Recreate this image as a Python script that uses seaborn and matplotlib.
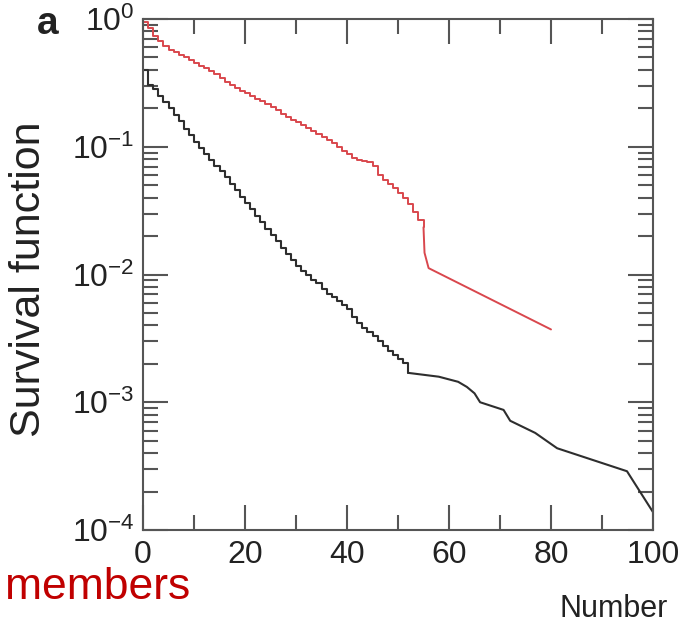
import numpy as np
import matplotlib
matplotlib.use("Agg")
import matplotlib.pyplot as plt
import seaborn as sns
from matplotlib.ticker import MultipleLocator, LogLocator, NullFormatter, LogFormatterSciNotation

# ---------------- data ----------------
# black curve: stepped part, survival given as log10 values at integer x
black_step_x = list(range(0, 53))
black_step_log10 = [-0.40, -0.52, -0.55, -0.60, -0.65, -0.70, -0.75, -0.80, -0.86, -0.91,
                    -0.96, -1.01, -1.06, -1.10, -1.15, -1.19, -1.24, -1.29, -1.34, -1.39,
                    -1.44, -1.49, -1.54, -1.59, -1.64, -1.69, -1.74, -1.79, -1.84, -1.89,
                    -1.93, -1.97, -2.00, -2.04, -2.07, -2.11, -2.15, -2.18, -2.21, -2.24,
                    -2.27, -2.33, -2.38, -2.42, -2.45, -2.48, -2.52, -2.56, -2.60, -2.63,
                    -2.66, -2.69, -2.77]
# black curve: sparse tail
black_tail_x = [52, 58, 61.8, 63.5, 65, 66.1, 70.7, 72, 76.9, 81.2, 94.9, 100]
black_tail_log10 = [-2.77, -2.80, -2.84, -2.88, -2.93, -3.00, -3.06, -3.145, -3.24, -3.36, -3.54, -3.86]

# red curve: stepped part
red_step_x = list(range(0, 56))
red_step_log10 = [-0.02, -0.07, -0.13, -0.17, -0.21, -0.24, -0.26, -0.28, -0.30, -0.32,
                  -0.345, -0.365, -0.385, -0.405, -0.43, -0.46, -0.49, -0.515, -0.54, -0.56,
                  -0.58, -0.60, -0.625, -0.645, -0.665, -0.69, -0.715, -0.74, -0.765, -0.79,
                  -0.81, -0.83, -0.85, -0.875, -0.90, -0.925, -0.945, -0.97, -1.00, -1.03,
                  -1.06, -1.085, -1.10, -1.11, -1.12, -1.15, -1.22, -1.26, -1.29, -1.32,
                  -1.36, -1.40, -1.45, -1.51, -1.57, -1.63]
# red curve: tail
red_tail_x = [55, 55.2, 56, 80]
red_tail_log10 = [-1.63, -1.83, -1.95, -2.43]

x_ticks = [0, 20, 40, 60, 80, 100]

# ---------------- style ----------------
sns.set_theme(style="ticks")
plt.rcParams["font.family"] = ["Liberation Sans", "DejaVu Sans"]
plt.rcParams["mathtext.fontset"] = "custom"
plt.rcParams["mathtext.rm"] = "Liberation Sans"
plt.rcParams["mathtext.it"] = "Liberation Sans:italic"
plt.rcParams["mathtext.bf"] = "Liberation Sans:bold"
for a in ("xtick", "ytick"):
    plt.rcParams[f"{a}.direction"] = "in"
    plt.rcParams[f"{a}.major.size"] = 18
    plt.rcParams[f"{a}.minor.size"] = 11
    plt.rcParams[f"{a}.major.width"] = 1.5
    plt.rcParams[f"{a}.minor.width"] = 1.5
    plt.rcParams[f"{a}.color"] = "#555555"
    plt.rcParams[f"{a}.labelcolor"] = "#222222"
    plt.rcParams[f"{a}.labelsize"] = 23
plt.rcParams["xtick.top"] = True
plt.rcParams["ytick.right"] = True
plt.rcParams["xtick.minor.visible"] = True
plt.rcParams["ytick.minor.visible"] = True

BLACK = "#2e2e2e"
RED = "#d9474d"
TXT = "#222222"

fig = plt.figure(figsize=(6.79, 6.26), dpi=100)
ax = fig.add_axes([143 / 679, 1 - 530 / 626, 510 / 679, 511 / 626])

sns.lineplot(x=black_step_x, y=10 ** np.array(black_step_log10), drawstyle="steps-post",
             color=BLACK, lw=1.5, estimator=None, sort=False, ax=ax)
sns.lineplot(x=black_tail_x, y=10 ** np.array(black_tail_log10),
             color=BLACK, lw=1.5, estimator=None, sort=False, ax=ax)
sns.lineplot(x=red_step_x, y=10 ** np.array(red_step_log10), drawstyle="steps-post",
             color=RED, lw=1.4, estimator=None, sort=False, ax=ax)
sns.lineplot(x=red_tail_x, y=10 ** np.array(red_tail_log10),
             color=RED, lw=1.4, estimator=None, sort=False, ax=ax)

ax.set_yscale("log")
ax.set_xlim(0, 100)
ax.set_ylim(1e-4, 1)

ax.set_xticks(x_ticks)
ax.set_xticklabels([str(t) for t in x_ticks])
ax.xaxis.set_minor_locator(MultipleLocator(10))
ax.yaxis.set_major_locator(LogLocator(base=10, numticks=10))
ax.yaxis.set_minor_locator(LogLocator(base=10, subs=np.arange(2, 10), numticks=20))
ax.yaxis.set_major_formatter(LogFormatterSciNotation())
ax.yaxis.set_minor_formatter(NullFormatter())

for sp in ax.spines.values():
    sp.set_visible(True)
    sp.set_color("#555555")
    sp.set_linewidth(1.5)

ax.tick_params(which="both", direction="in", top=True, right=True, width=1.5)
ax.tick_params(which="major", length=18)
ax.tick_params(which="minor", length=11)
ax.tick_params(axis="x", which="major", pad=7)
ax.tick_params(axis="y", which="major", pad=6)

ax.set_xlabel("")
ax.set_ylabel("Survival function", fontsize=31, color=TXT)
ax.yaxis.set_label_coords(-0.185, 0.49)

fig.text(37 / 679, 1 - 34 / 626, "a", fontsize=28, fontweight="bold", color=TXT, va="baseline")
fig.text(668 / 679, 1 - 617 / 626, "Number", fontsize=22, color=TXT, ha="right", va="baseline")
fig.text(190 / 679, 1 - 599 / 626, "members", fontsize=32, color="#c00000", ha="right", va="baseline")

fig.savefig("out.png", dpi=100)
